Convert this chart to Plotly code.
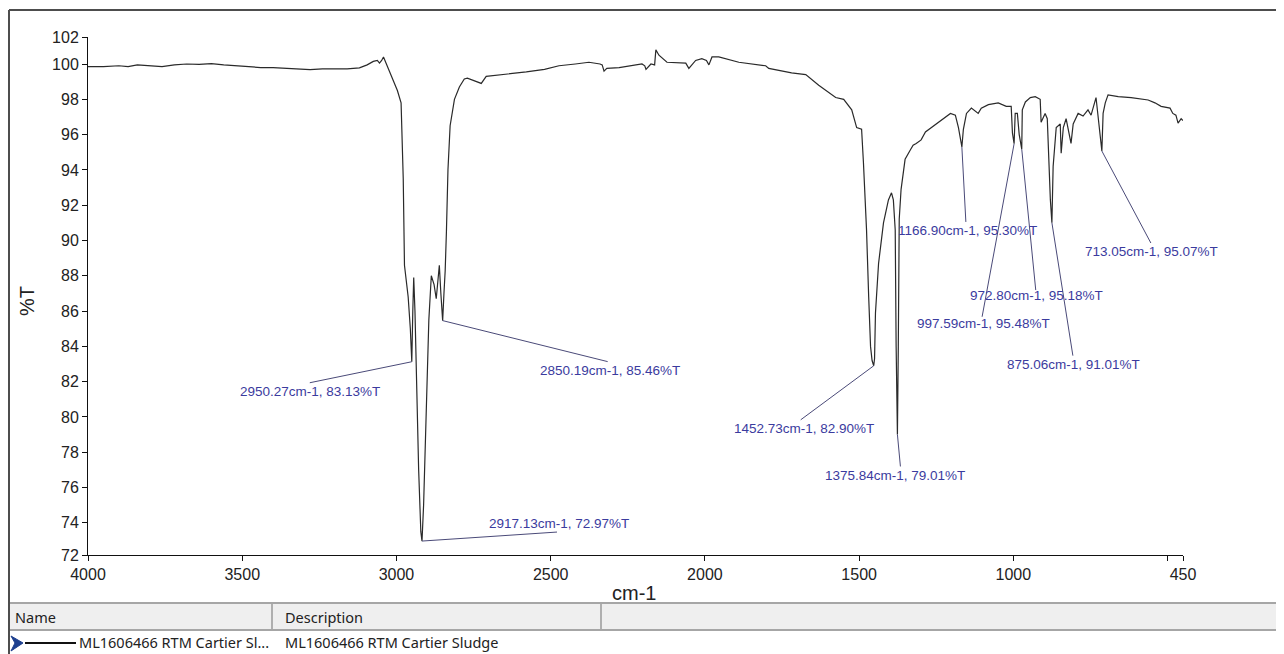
import plotly.graph_objects as go

# ---------------- data ----------------
wavenumber = [
    4000, 3950, 3900, 3870, 3840, 3800, 3760, 3720, 3680, 3640, 3600, 3560, 3520, 3480,
    3440, 3400, 3360, 3320, 3280, 3240, 3200, 3160, 3120, 3095, 3075, 3062, 3055, 3048,
    3042, 3030, 3016, 2997, 2985, 2978, 2974, 2962, 2955, 2950.27, 2947, 2944, 2940, 2935,
    2928, 2921, 2917.13, 2912, 2905, 2895, 2887, 2878, 2871, 2865, 2861, 2856, 2850.19, 2846,
    2842, 2838, 2833, 2826, 2812, 2796, 2780, 2770, 2754, 2740, 2725, 2709, 2650, 2579,
    2520, 2473, 2420, 2376, 2340, 2333, 2327, 2318, 2278, 2230, 2204, 2195, 2191, 2175,
    2163, 2159, 2149, 2123, 2090, 2062, 2052, 2030, 2010, 1995, 1987, 1977, 1955, 1890,
    1803, 1793, 1719, 1673, 1631, 1576, 1550, 1524, 1508, 1492, 1486, 1476, 1469, 1463,
    1458, 1452.73, 1450, 1447, 1437, 1421, 1405, 1395, 1389, 1383, 1380, 1375.84, 1373, 1370,
    1364, 1351, 1335, 1325, 1315, 1299, 1285, 1266, 1243, 1220, 1204, 1188, 1178, 1166.90,
    1162, 1152, 1136, 1114, 1104, 1081, 1049, 1023, 1007, 1003, 997.59, 994, 987, 981,
    972.80, 971, 961, 945, 929, 913, 910, 897, 890, 880, 875.06, 871, 861, 848,
    845, 838, 829, 813, 806, 790, 774, 758, 748, 732, 728, 713.05, 709, 702,
    693, 660, 618, 563, 541, 521, 492, 483, 473, 466, 456, 450,
]
transmittance = [
    99.85, 99.85, 99.9, 99.85, 99.95, 99.9, 99.85, 99.95, 100.0, 99.98, 100.02, 99.95, 99.9, 99.85,
    99.8, 99.8, 99.75, 99.7, 99.68, 99.72, 99.7, 99.72, 99.78, 99.95, 100.15, 100.2, 100.05, 100.2,
    100.4, 99.9, 99.4, 98.5, 97.8, 93.5, 88.6, 86.8, 85.0, 83.13, 86.0, 87.9, 86.0, 82.0,
    77.0, 73.5, 72.97, 75.0, 80.0, 85.5, 88.0, 87.5, 86.7, 87.8, 88.6, 87.0, 85.46, 87.0,
    88.3, 90.5, 94.0, 96.5, 98.0, 98.7, 99.15, 99.2, 99.1, 99.0, 98.9, 99.3, 99.4, 99.55,
    99.7, 99.9, 100.0, 100.1, 100.0, 99.95, 99.6, 99.75, 99.8, 99.95, 100.0, 99.9, 99.7, 100.0,
    99.95, 100.8, 100.5, 100.1, 100.05, 100.05, 99.75, 100.2, 100.3, 100.2, 99.95, 100.4, 100.4, 100.1,
    99.9, 99.75, 99.5, 99.4, 98.8, 98.1, 98.0, 97.4, 96.4, 96.3, 94.4, 90.6, 86.8, 84.0,
    83.2, 82.90, 83.3, 85.9, 88.7, 91.0, 92.3, 92.7, 92.3, 90.6, 84.0, 79.01, 84.0, 91.2,
    92.9, 94.6, 95.1, 95.4, 95.5, 95.7, 96.15, 96.4, 96.7, 97.0, 97.2, 97.1, 96.4, 95.30,
    96.3, 97.2, 97.5, 97.2, 97.5, 97.7, 97.8, 97.6, 97.6, 96.1, 95.48, 97.2, 97.2, 96.0,
    95.18, 97.4, 97.85, 98.1, 98.15, 98.0, 96.7, 97.2, 96.9, 92.3, 91.01, 94.2, 96.4, 96.6,
    94.95, 96.4, 96.9, 95.5, 96.6, 97.2, 97.05, 97.4, 97.1, 98.1, 97.4, 95.07, 97.2, 97.8,
    98.25, 98.15, 98.1, 97.96, 97.8, 97.6, 97.5, 97.2, 97.1, 96.65, 96.9, 96.8,
]

peak_wn = [2950.27, 2850.19, 2917.13, 1452.73, 1375.84, 1166.90, 972.80, 997.59, 875.06, 713.05]
peak_T = [83.13, 85.46, 72.97, 82.90, 79.01, 95.30, 95.18, 95.48, 91.01, 95.07]

x_tick_vals = [4000, 3500, 3000, 2500, 2000, 1500, 1000, 500, 450]
x_tick_text = ["4000", "3500", "3000", "2500", "2000", "1500", "1000", "", "450"]
y_tick_vals = [72.18, 74, 76, 78, 80, 82, 84, 86, 88, 90, 92, 94, 96, 98, 100, 101.53]
y_tick_text = ["72", "74", "76", "78", "80", "82", "84", "86", "88", "90", "92", "94",
               "96", "98", "100", "102"]

x_title = "cm-1"
y_title = "%T"
table_headers = ["Name", "Description"]
legend_name = "ML1606466 RTM Cartier Sl..."
legend_desc = "ML1606466 RTM Cartier Sludge"

# ---------------- layout geometry (pixels) ----------------
# The page body has an 8px margin, so the figure is placed at (8, 8) in the window.
OFF = 8
W, H = 1284 - OFF, 654 - OFF
PLOT_L, PLOT_R, PLOT_T, PLOT_B = 88, 1183, 37, 555     # window pixel coordinates
ML, MR, MT, MB = PLOT_L - OFF, 1284 - PLOT_R, PLOT_T - OFF, 654 - PLOT_B
PW = PLOT_R - PLOT_L
PH = PLOT_B - PLOT_T


def px(x):
    return (x - PLOT_L) / PW


def py(y):
    return (PLOT_B - y) / PH


# leader-line end offsets and label-centre offsets from each peak (pixels, y down)
line_off = [(-102, 21), (165, 41), (135, -9), (-73, 54), (3, 32), (4, 75), (14, 141),
            (-32, 173), (21, 133), (49, 92)]
text_off = [(-102, 30), (167, 50), (137, -18), (-70, 63), (-2, 41), (6, 84), (15, 146),
            (-31, 180), (22, 142), (50, 100)]

LABEL_COLOR = "#3b3b9e"
LEADER_COLOR = "#4a4a78"
FRAME_COLOR = "#4d4d4d"

fig = go.Figure()
fig.add_trace(go.Scatter(
    x=wavenumber, y=transmittance, mode="lines",
    line=dict(color="#2a2a2a", width=1.2), hoverinfo="x+y", showlegend=False,
))

shapes = []
annotations = []

for w, t, (lx, ly), (tx, ty) in zip(peak_wn, peak_T, line_off, text_off):
    shapes.append(dict(
        type="line", xref="x", yref="y", xsizemode="pixel", ysizemode="pixel",
        xanchor=w, yanchor=t, x0=0, y0=0, x1=lx, y1=-ly,
        line=dict(color=LEADER_COLOR, width=1),
    ))
    annotations.append(dict(
        x=w, y=t, xref="x", yref="y", showarrow=False,
        text=f"{w:.2f}cm-1, {t:.2f}%T", xshift=tx, yshift=-ty,
        xanchor="center", yanchor="middle",
        font=dict(family="Arial, Liberation Sans", size=13.5, color=LABEL_COLOR),
    ))

# axis titles
annotations.append(dict(
    x=px(634), y=py(593), xref="paper", yref="paper", showarrow=False, text=x_title,
    xanchor="center", yanchor="middle",
    font=dict(family="Arial, Liberation Sans", size=20, color="#222"),
))
annotations.append(dict(
    x=px(27), y=py(301), xref="paper", yref="paper", showarrow=False, text=y_title,
    textangle=-90, xanchor="center", yanchor="middle",
    font=dict(family="Arial, Liberation Sans", size=20, color="#222"),
))

# outer frame (explicit edges)
for (xa, ya, xb, yb) in ((9, 10, 1278, 10), (9, 10, 9, 670), (1278, 10, 1278, 670)):
    shapes.append(dict(type="line", xref="paper", yref="paper",
                       x0=px(xa), y0=py(ya), x1=px(xb), y1=py(yb),
                       line=dict(color=FRAME_COLOR, width=2), layer="above"))
# table header
shapes.append(dict(type="rect", xref="paper", yref="paper",
                   x0=px(10), x1=px(1277), y0=py(603), y1=py(630),
                   line=dict(width=0), fillcolor="#efefef", layer="below"))
for yy in (603, 630):
    shapes.append(dict(type="line", xref="paper", yref="paper",
                       x0=px(10), x1=px(1277), y0=py(yy), y1=py(yy),
                       line=dict(color="#a6a6a6", width=2)))
for xx in (272, 601):
    shapes.append(dict(type="line", xref="paper", yref="paper",
                       x0=px(xx), x1=px(xx), y0=py(604), y1=py(629),
                       line=dict(color="#9a9a9a", width=1.5)))
# legend marker: chevron + line sample
chev = [(11, 636), (23, 643), (11, 651), (15, 643)]
path = "M " + " L ".join(f"{px(a):.5f},{py(b):.5f}" for a, b in chev) + " Z"
shapes.append(dict(type="path", xref="paper", yref="paper", path=path,
                   fillcolor="#1d3f8f", line=dict(color="#1d3f8f", width=1)))
shapes.append(dict(type="line", xref="paper", yref="paper",
                   x0=px(25), x1=px(76), y0=py(643), y1=py(643),
                   line=dict(color="#111", width=2)))

TABLE_FONT = dict(family="Noto Sans, Open Sans, Arial", size=14.5, color="#222")
for txt, xx, yy in ((table_headers[0], 13, 617), (table_headers[1], 283, 617),
                    (legend_name, 77, 642), (legend_desc, 283, 642)):
    annotations.append(dict(
        x=px(xx), y=py(yy), xref="paper", yref="paper", showarrow=False, text=txt,
        xanchor="left", yanchor="middle", font=TABLE_FONT,
    ))

fig.update_layout(
    width=W, height=H,
    margin=dict(l=ML, r=MR, t=MT, b=MB, pad=0),
    paper_bgcolor="white", plot_bgcolor="white",
    shapes=shapes, annotations=annotations,
    showlegend=False,
    xaxis=dict(
        range=[4000, 450], tickmode="array", tickvals=x_tick_vals, ticktext=x_tick_text,
        showgrid=False, zeroline=False, showline=True, linecolor="#111", linewidth=1,
        ticks="outside", ticklen=5, tickcolor="#111",
        tickfont=dict(family="Arial, Liberation Sans", size=16, color="#222"),
    ),
    yaxis=dict(
        range=[72.18, 101.53], tickmode="array", tickvals=y_tick_vals, ticktext=y_tick_text,
        showgrid=False, zeroline=False, showline=True, linecolor="#111", linewidth=1,
        ticks="outside", ticklen=5, tickcolor="#111",
        tickfont=dict(family="Arial, Liberation Sans", size=16, color="#222"),
    ),
)

fig.write_html("out.html")
